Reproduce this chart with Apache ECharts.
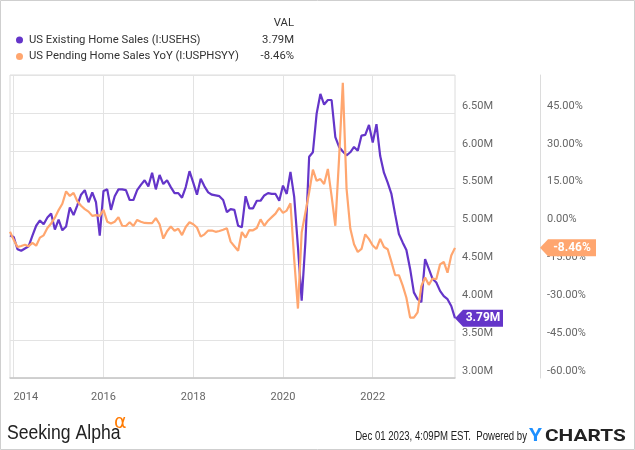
<!DOCTYPE html>
<html>
<head>
<meta charset="utf-8">
<script src="https://cdn.jsdelivr.net/npm/echarts@6/dist/echarts.min.js"></script>
<style>
html,body{margin:0;padding:0;background:#fff;}
#chart{width:635px;height:450px;}
</style>
</head>
<body>
<div id="chart"></div>
<script>
// ---- data ----
const startYear = 2013, startMonth = 11, monthCount = 120;
const months = [];
for (let k = 0; k < monthCount; k++) {
  const m0 = startMonth - 1 + k;
  const y = startYear + Math.floor(m0 / 12);
  const m = (m0 % 12) + 1;
  months.push(y + '-' + (m < 10 ? '0' + m : m));
}

// US Existing Home Sales (millions, SAAR)
const existingSales = [
  4.88, 4.86, 4.70, 4.68, 4.71, 4.74, 4.88, 5.01, 5.08, 5.03, 5.12, 5.17,
  4.96, 5.09, 4.95, 5.00, 5.25, 5.15, 5.28, 5.42, 5.48, 5.32, 5.45, 5.32,
  4.88, 5.47, 5.49, 5.22, 5.40, 5.49, 5.49, 5.48, 5.35, 5.35, 5.48, 5.55,
  5.61, 5.53, 5.71, 5.49, 5.68, 5.56, 5.61, 5.52, 5.44, 5.44, 5.38, 5.52,
  5.73, 5.58, 5.42, 5.63, 5.53, 5.45, 5.42, 5.41, 5.40, 5.35, 5.19, 5.23,
  5.22, 5.01, 4.99, 5.40, 5.24, 5.24, 5.34, 5.34, 5.41, 5.44, 5.43, 5.43,
  5.34, 5.54, 5.43, 5.72, 5.39, 4.73, 4.02, 4.80, 5.92, 5.98, 6.49, 6.75,
  6.61, 6.67, 6.67, 6.18, 6.05, 5.99, 5.94, 5.98, 6.05, 6.00, 6.20, 6.21,
  6.34, 6.11, 6.35, 5.93, 5.71, 5.58, 5.43, 5.16, 4.90, 4.79, 4.69, 4.44,
  4.13, 4.04, 4.00, 4.57, 4.44, 4.31, 4.26, 4.15, 4.08, 4.04, 3.95, 3.79
];

// US Pending Home Sales YoY (%)
const pendingYoY = [
  -2.1, -5.3, -8.1, -7.7, -7.2, -7.8, -6.5, -7.6, -4.4, -3.5, -0.6, 1.2,
  3.5, 6.5, 9.0, 13.9, 12.1, 13.3, 10.0, 8.2, 6.9, 5.9, 4.2, 4.5,
  4.2, 6.6, 1.9, 1.2, 1.9, 3.7, 0.3, 0.2, 1.7, 0.2, 2.6, 1.9,
  1.4, 1.3, 1.3, 3.3, 0.9, -4.8, -1.9, 0.0, -1.7, -0.9, -3.4, -0.2,
  1.7, 0.9, -0.4, -4.0, -3.1, -1.6, -1.6, -2.1, -1.8, -1.3, -0.7, -6.0,
  -7.8, -9.6, -2.2, -4.4, -1.4, -1.5, -0.6, 2.8, 0.3, 2.3, 3.7, 5.1,
  7.4, 5.4, 6.3, 9.2, -13.0, -32.5, -2.4, 5.6, 13.5, 22.5, 18.1, 18.8,
  16.8, 22.8, 12.0, 0.3, 27.0, 56.9, 15.0, -0.8, -7.0, -10.1, -8.9, -3.1,
  -5.0, -7.5, -8.9, -4.9, -8.1, -9.0, -14.0, -19.3, -19.3, -23.3, -28.2, -36.1,
  -36.1, -34.0, -23.6, -20.2, -23.1, -20.6, -20.9, -15.0, -14.0, -18.3, -11.5, -8.46
];

const seriesNames = ['US Existing Home Sales (I:USEHS)', 'US Pending Home Sales YoY (I:USPHSYY)'];
const lastLabels = ['3.79M', '-8.46%'];
const colors = ['#6435C9', '#FFA66F'];
// ---- end data ----

const chart = echarts.init(document.getElementById('chart'), null, {renderer: 'canvas'});
const FONT = 'Roboto, "Noto Sans", sans-serif';
// gridline / label every two years (at the turn of each even year)
const isTick = (idx, val) => val.slice(5) === '12' && (+val.slice(0, 4)) % 2 === 1;

const option = {
  animation: false,
  backgroundColor: '#fff',
  grid: {left: 10, right: 180, top: 75, bottom: 72, show: true, borderColor: '#dcdcdc', borderWidth: 1},
  xAxis: {
    type: 'category',
    data: months,
    boundaryGap: false,
    axisLine: {show: true, onZero: false, lineStyle: {color: '#c8c8c8', width: 1.5}},
    axisTick: {show: false},
    splitLine: {show: true, interval: isTick, lineStyle: {color: '#e3e3e3', width: 1}},
    axisLabel: {
      interval: isTick,
      margin: 14,
      color: '#666',
      fontFamily: FONT,
      fontSize: 11,
      formatter: function (val, idx) {
        const yr = String(+val.slice(0, 4) + 1);
        return idx < 12 ? '{l|' + yr + '}' : yr;
      },
      rich: {l: {padding: [0, 0, 0, 24], color: '#666', fontFamily: FONT, fontSize: 11}}
    }
  },
  yAxis: [
    {
      type: 'value', min: 3, max: 7, interval: 0.5, position: 'right',
      axisLine: {show: false}, axisTick: {show: false},
      splitLine: {show: true, lineStyle: {color: '#e3e3e3'}},
      axisLabel: {
        showMaxLabel: false, margin: 7, align: 'left', verticalAlign: 'bottom', lineHeight: 14,
        color: '#666', fontFamily: FONT, fontSize: 11,
        formatter: v => v.toFixed(2) + 'M'
      }
    },
    {
      type: 'value', min: -60, max: 60, interval: 15, position: 'right', offset: 85,
      axisLine: {show: true, onZero: false, lineStyle: {color: '#dcdcdc', width: 1}}, axisTick: {show: false},
      splitLine: {show: false},
      axisLabel: {
        showMaxLabel: false, margin: 7, align: 'left', verticalAlign: 'bottom', lineHeight: 14,
        color: '#666', fontFamily: FONT, fontSize: 11,
        formatter: v => v.toFixed(2) + '%'
      }
    }
  ],
  series: [
    {
      name: seriesNames[0], type: 'line', yAxisIndex: 0, data: existingSales,
      symbol: 'none', lineStyle: {color: colors[0], width: 2.2}, z: 3
    },
    {
      name: seriesNames[1], type: 'line', yAxisIndex: 1, data: pendingYoY,
      symbol: 'none', lineStyle: {color: colors[1], width: 2.2}, z: 4
    }
  ]
};
chart.setOption(option);

function buildGraphics() {
  const last = months.length - 1;
  const p1 = chart.convertToPixel({xAxisIndex: 0, yAxisIndex: 0}, [last, existingSales[last]]);
  const p2 = chart.convertToPixel({xAxisIndex: 0, yAxisIndex: 1}, [last, pendingYoY[last]]);
  const tip1 = p1[0];
  const tip2 = p1[0] + 85;
  function tag(tipX, y, w, color, text) {
    const h = 8.5, a = 8;
    return [
      {type: 'polygon', z: 100, shape: {points: [[tipX, y], [tipX + a, y - h], [tipX + w, y - h], [tipX + w, y + h], [tipX + a, y + h]]},
        style: {fill: color}},
      {type: 'text', z: 101, x: tipX + (a + w) / 2, y: y,
        style: {text: text, fill: '#fff', font: 'bold 12px ' + FONT, align: 'center', verticalAlign: 'middle'}}
    ];
  }
  const HF = '11.3px ' + FONT;
  const els = [
    {type: 'rect', z: 200, shape: {x: 0.5, y: 0.5, width: 634, height: 449}, style: {fill: 'none', stroke: '#cfcfcf', lineWidth: 1}},
    // header
    {type: 'text', x: 294, y: 23, style: {text: 'VAL', fill: '#333', font: HF, align: 'right', verticalAlign: 'middle'}},
    {type: 'circle', shape: {cx: 19.5, cy: 40, r: 3.5}, style: {fill: colors[0]}},
    {type: 'text', x: 29, y: 40, style: {text: seriesNames[0], fill: '#333', font: HF, align: 'left', verticalAlign: 'middle'}},
    {type: 'text', x: 294, y: 40, style: {text: lastLabels[0], fill: '#333', font: HF, align: 'right', verticalAlign: 'middle'}},
    {type: 'circle', shape: {cx: 19.5, cy: 56.5, r: 3.5}, style: {fill: colors[1]}},
    {type: 'text', x: 29, y: 56.5, style: {text: seriesNames[1], fill: '#333', font: HF, align: 'left', verticalAlign: 'middle'}},
    {type: 'text', x: 294, y: 56.5, style: {text: lastLabels[1], fill: '#333', font: HF, align: 'right', verticalAlign: 'middle'}},
    // footer
    {type: 'text', x: 7, y: 433, scaleX: 0.88, style: {text: 'Seeking Alpha', fill: '#222', font: '20px "Liberation Sans", Arial, sans-serif', align: 'left', verticalAlign: 'middle'}},
    {type: 'text', x: 114, y: 423, style: {text: 'α', fill: '#FF7A00', font: '19px "DejaVu Sans", sans-serif', align: 'left', verticalAlign: 'middle'}},
    {type: 'text', x: 527, y: 437, scaleX: 0.8, style: {text: 'Dec 01 2023, 4:09PM EST.  Powered by', fill: '#222', font: '12px "Liberation Sans", Arial, sans-serif', align: 'right', verticalAlign: 'middle'}},
    {type: 'text', x: 529, y: 436, scaleX: 1.1, style: {text: 'Y', fill: '#1E90FF', font: 'bold 19px ' + FONT, align: 'left', verticalAlign: 'middle'}},
    {type: 'text', x: 545, y: 437, scaleX: 1.3, style: {text: 'CHARTS', fill: '#222', font: 'bold 16px ' + FONT, align: 'left', verticalAlign: 'middle'}}
  ].concat(tag(tip1, p1[1], 48, colors[0], lastLabels[0]), tag(tip2, p2[1], 56, colors[1], lastLabels[1]));
  chart.setOption({graphic: els});
}
buildGraphics();
</script>
</body>
</html>
